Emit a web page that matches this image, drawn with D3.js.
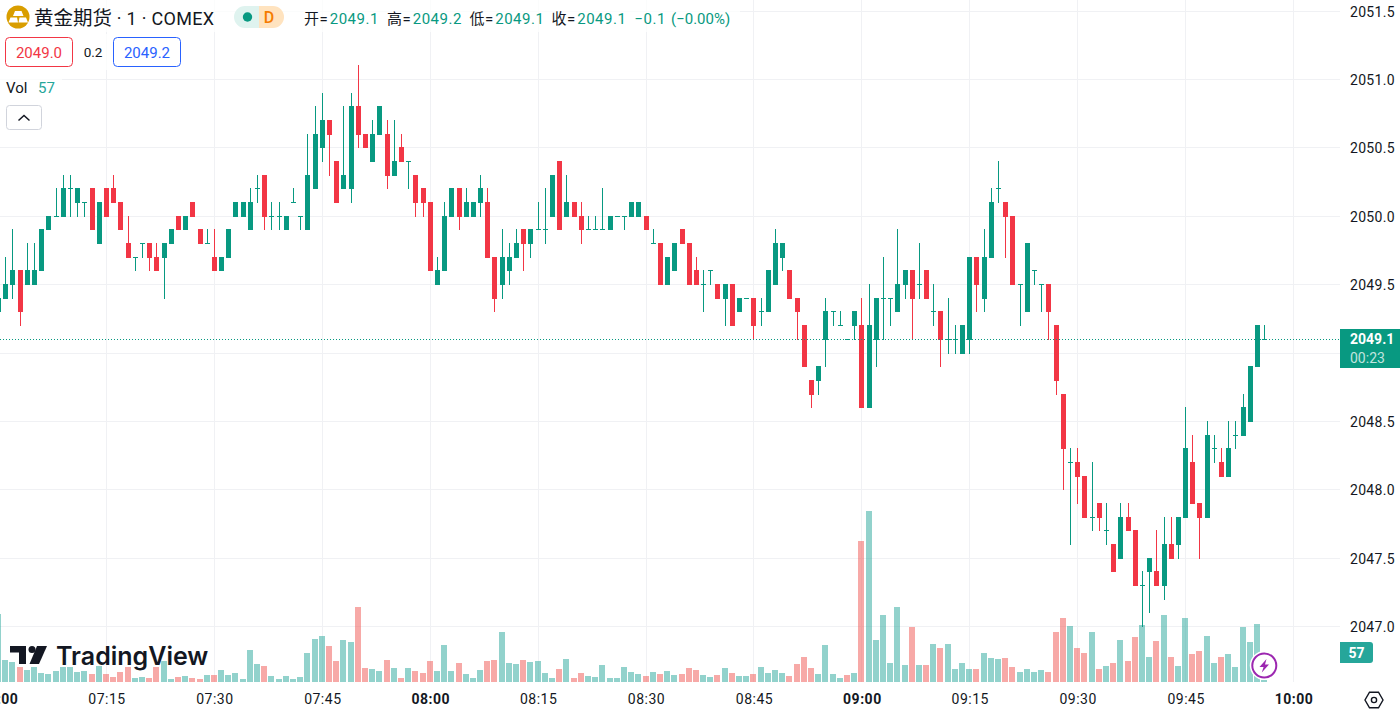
<!DOCTYPE html>
<html>
<head>
<meta charset="utf-8">
<title>黄金期货 · 1 · COMEX</title>
<script src="https://cdn.jsdelivr.net/npm/d3@7"></script>
<style>
  html, body { margin: 0; padding: 0; background: #fff; overflow: hidden; }
  text { font-family: Roboto, "Noto Sans CJK SC", sans-serif; }
</style>
</head>
<body>
<div id="chart"></div>
<script>
// one bar per minute, first bar is 07:00
const opens = [
  2049.3,2049.4,2049.5,2049.6,2049.5,2049.5,2049.6,2049.9,2050.0,2050.0,
  2050.2,2050.1,2050.1,2050.2,2049.8,2050.2,2050.2,2050.1,2049.8,2049.7,
  2049.8,2049.8,2049.7,2049.7,2049.8,2050.0,2049.9,2050.1,2049.9,2049.8,
  2049.7,2049.6,2049.7,2050.0,2050.0,2049.9,2050.2,2050.3,2050.0,2050.0,
  2049.9,2050.1,2050.0,2049.9,2050.2,2050.5,2050.7,2050.4,2050.2,2050.2,
  2050.8,2050.6,2050.4,2050.6,2050.6,2050.3,2050.5,2050.4,2050.3,2050.2,
  2050.1,2049.5,2049.6,2050.0,2050.2,2050.0,2050.0,2050.1,2050.1,2049.7,
  2049.5,2049.6,2049.7,2049.9,2049.8,2049.9,2049.9,2050.0,2050.4,2050.0,
  2050.1,2050.0,2049.9,2049.9,2049.9,2049.9,2050.0,2050.0,2050.0,2050.0,
  2050.0,2049.8,2049.8,2049.5,2049.6,2049.9,2049.8,2049.6,2049.5,2049.6,
  2049.5,2049.4,2049.5,2049.3,2049.4,2049.4,2049.3,2049.3,2049.5,2049.7,
  2049.6,2049.4,2049.2,2048.8,2048.8,2049.1,2049.3,2049.2,2049.1,2049.2,
  2049.2,2048.6,2049.1,2049.4,2049.4,2049.3,2049.5,2049.6,2049.5,2049.6,
  2049.3,2049.3,2049.1,2049.1,2049.0,2049.1,2049.7,2049.4,2049.7,2050.2,
  2050.1,2050.0,2049.5,2049.3,2049.6,2049.5,2049.5,2049.2,2048.7,2048.2,
  2048.2,2048.1,2047.8,2047.9,2047.7,2047.6,2047.5,2047.8,2047.7,2047.3,
  2047.4,2047.4,2047.3,2047.6,2047.6,2047.8,2048.2,2047.9,2047.8,2048.3,
  2048.2,2048.1,2048.4,2048.4,2048.5,2048.9,2049.1
];
const highs = [
  2049.4,2049.7,2049.9,2049.6,2049.8,2049.8,2049.9,2050.0,2050.2,2050.3,
  2050.3,2050.2,2050.1,2050.2,2050.1,2050.2,2050.3,2050.1,2050.0,2049.7,
  2049.8,2049.8,2049.8,2049.8,2049.9,2050.0,2050.0,2050.1,2049.9,2049.9,
  2049.9,2049.7,2049.9,2050.1,2050.1,2050.2,2050.3,2050.3,2050.1,2050.1,
  2050.0,2050.2,2050.0,2050.6,2050.8,2050.9,2050.7,2050.4,2050.8,2050.9,
  2051.1,2050.6,2050.7,2050.8,2050.7,2050.7,2050.6,2050.4,2050.3,2050.2,
  2050.1,2049.7,2050.1,2050.2,2050.2,2050.2,2050.1,2050.3,2050.2,2049.7,
  2049.9,2049.8,2049.9,2049.9,2049.9,2050.1,2050.2,2050.3,2050.4,2050.3,
  2050.1,2050.1,2050.0,2050.0,2050.2,2050.0,2050.0,2050.0,2050.1,2050.1,
  2050.0,2049.9,2049.8,2049.7,2049.8,2049.9,2049.8,2049.7,2049.6,2049.6,
  2049.5,2049.5,2049.5,2049.4,2049.4,2049.4,2049.4,2049.6,2049.9,2049.8,
  2049.6,2049.4,2049.2,2048.8,2048.9,2049.4,2049.3,2049.3,2049.1,2049.3,
  2049.4,2049.5,2049.4,2049.7,2049.4,2049.9,2049.6,2049.6,2049.8,2049.6,
  2049.5,2049.3,2049.4,2049.2,2049.2,2049.7,2049.7,2049.9,2050.2,2050.4,
  2050.1,2050.0,2049.5,2049.8,2049.6,2049.5,2049.5,2049.2,2048.7,2048.3,
  2048.3,2048.1,2048.2,2047.9,2047.9,2047.6,2047.9,2047.9,2047.7,2047.4,
  2047.5,2047.7,2047.8,2047.8,2047.8,2048.6,2048.4,2047.9,2048.5,2048.4,
  2048.3,2048.5,2048.5,2048.7,2048.9,2049.2,2049.2
];
const lows = [
  2049.3,2049.4,2049.4,2049.2,2049.5,2049.5,2049.6,2049.9,2050.0,2050.0,
  2050.0,2050.0,2050.0,2049.9,2049.8,2050.0,2050.1,2049.9,2049.7,2049.6,
  2049.7,2049.6,2049.6,2049.4,2049.8,2049.9,2049.9,2050.0,2049.8,2049.8,
  2049.6,2049.6,2049.7,2050.0,2050.0,2049.9,2050.1,2049.9,2049.9,2049.9,
  2049.9,2050.1,2049.9,2049.9,2050.2,2050.4,2050.3,2050.1,2050.2,2050.1,
  2050.5,2050.5,2050.4,2050.6,2050.2,2050.3,2050.4,2050.2,2050.0,2050.0,
  2049.6,2049.5,2049.6,2050.0,2049.9,2050.0,2050.0,2050.0,2049.7,2049.3,
  2049.4,2049.5,2049.7,2049.6,2049.7,2049.9,2049.8,2050.0,2049.9,2050.0,
  2050.0,2049.8,2049.9,2049.9,2049.9,2049.9,2050.0,2049.9,2050.0,2050.0,
  2049.9,2049.8,2049.5,2049.5,2049.6,2049.8,2049.5,2049.5,2049.3,2049.5,
  2049.4,2049.2,2049.2,2049.3,2049.4,2049.1,2049.2,2049.3,2049.5,2049.6,
  2049.4,2049.1,2048.9,2048.6,2048.7,2048.9,2049.2,2049.2,2049.1,2049.1,
  2048.6,2048.6,2048.9,2049.1,2049.2,2049.3,2049.4,2049.1,2049.4,2049.4,
  2049.2,2048.9,2049.0,2049.0,2049.0,2049.0,2049.3,2049.3,2049.7,2050.1,
  2049.7,2049.5,2049.2,2049.3,2049.5,2049.3,2049.1,2048.7,2048.0,2047.6,
  2047.9,2047.8,2047.7,2047.7,2047.6,2047.4,2047.5,2047.7,2047.3,2047.0,
  2047.1,2047.3,2047.2,2047.5,2047.5,2047.8,2047.9,2047.5,2047.8,2048.2,
  2048.1,2048.1,2048.3,2048.4,2048.5,2048.9,2049.1
];
const closes = [
  2049.4,2049.5,2049.6,2049.3,2049.6,2049.6,2049.9,2050.0,2050.0,2050.2,
  2050.2,2050.2,2050.1,2049.9,2050.1,2050.0,2050.1,2049.9,2049.7,2049.7,
  2049.8,2049.7,2049.6,2049.8,2049.9,2049.9,2050.0,2050.0,2049.8,2049.8,
  2049.6,2049.7,2049.9,2050.1,2050.1,2050.1,2050.2,2050.0,2050.0,2050.0,
  2050.0,2050.1,2050.0,2050.3,2050.6,2050.7,2050.6,2050.1,2050.3,2050.8,
  2050.6,2050.5,2050.6,2050.8,2050.3,2050.4,2050.4,2050.4,2050.1,2050.1,
  2049.6,2049.6,2050.0,2050.2,2050.0,2050.1,2050.1,2050.2,2049.7,2049.4,
  2049.7,2049.7,2049.8,2049.8,2049.9,2049.9,2049.9,2050.3,2049.9,2050.1,
  2050.0,2049.9,2049.9,2049.9,2049.9,2050.0,2050.0,2050.0,2050.1,2050.1,
  2049.9,2049.8,2049.5,2049.7,2049.8,2049.8,2049.5,2049.5,2049.5,2049.6,
  2049.4,2049.5,2049.2,2049.4,2049.4,2049.2,2049.3,2049.6,2049.8,2049.8,
  2049.4,2049.3,2048.9,2048.7,2048.9,2049.3,2049.3,2049.2,2049.1,2049.3,
  2048.6,2049.2,2049.4,2049.4,2049.4,2049.5,2049.6,2049.4,2049.5,2049.4,
  2049.3,2049.1,2049.1,2049.1,2049.2,2049.7,2049.5,2049.7,2050.1,2050.2,
  2050.0,2049.5,2049.5,2049.8,2049.6,2049.5,2049.3,2048.8,2048.3,2048.2,
  2048.1,2047.8,2047.8,2047.8,2047.7,2047.4,2047.8,2047.7,2047.3,2047.3,
  2047.5,2047.3,2047.6,2047.5,2047.8,2048.3,2047.9,2047.8,2048.4,2048.3,
  2048.1,2048.3,2048.4,2048.6,2048.9,2049.2,2049.1
];
const volumes = [
  136,44,40,30,24,30,18,16,22,30,
  30,20,22,16,32,16,10,20,30,8,
  10,8,30,42,6,10,12,8,6,14,
  14,24,14,18,6,64,36,32,12,6,
  12,6,10,58,86,92,72,42,84,80,
  150,28,26,22,44,28,8,28,22,18,
  42,22,74,22,38,16,8,24,42,44,
  100,38,36,44,40,42,18,8,26,46,
  8,18,12,10,34,8,8,30,20,16,
  12,20,16,22,14,16,28,24,14,10,
  14,28,18,12,12,16,30,18,24,18,
  12,36,50,28,16,74,16,8,14,18,
  282,342,84,134,38,150,34,110,34,34,
  76,68,76,26,38,26,26,58,48,46,
  48,30,20,26,20,24,20,100,128,112,
  68,58,100,26,32,38,84,42,90,114,
  50,82,134,50,32,128,56,62,92,38,
  50,56,30,110,80,116,4
];
// these bars print flat but their volume column is red in the picture
const redVolumeFlats = [118];

const priceTicks = [2047.0, 2047.5, 2048.0, 2048.5, 2049.0, 2049.5, 2050.0, 2050.5, 2051.0, 2051.5];
const timeTicks = [0, 15, 30, 45, 60, 75, 90, 105, 120, 135, 150, 165, 180];
const timeLabels = ["07:00", "07:15", "07:30", "07:45", "08:00", "08:15", "08:30", "08:45", "09:00", "09:15", "09:30", "09:45", "10:00"];
const boldTimes = ["07:00", "08:00", "09:00", "10:00"];

const symbolCn = "黄金期货", symbolRest = " · 1 · COMEX";
const legendLabels = ["开=", "高=", "低=", "收="];
const legendValues = ["2049.1", "2049.2", "2049.1", "2049.1"];
const legendChange = ["−0.1", "(−0.00%)"];
const bidPrice = "2049.0", askPrice = "2049.2", spread = "0.2";
const lastPrice = "2049.1", countdown = "00:23", lastVolume = "57";

const W = 1400, H = 715;
const paneRight = 1340, paneBottom = 682;
const green = "#089981", red = "#f23645", ink = "#131722";
const volGreen = "#26a69a", volRed = "#ef5350";

const x = d3.scaleLinear().domain([0, 180]).range([-1.4, 1293.5]);
const y = d3.scaleLinear().domain([2047, 2051]).range([626.5, 79.5]);
const yVol = d3.scaleLinear().domain([0, 342]).range([paneBottom, 511]);

const bars = opens.map((o, i) => ({
  i, o, h: highs[i], l: lows[i], c: closes[i], v: volumes[i], down: closes[i] < o
}));

const svg = d3.select("#chart").append("svg")
  .attr("width", W).attr("height", H)
  .style("display", "block")
  .style("background", "#fff");

// grid, drawn with the axes' own tick lines
svg.append("g")
  .attr("class", "grid-x")
  .call(d3.axisBottom(x).tickValues(timeTicks).tickSize(paneBottom).tickFormat("").offset(0))
  .call(g => g.select(".domain").remove())
  .call(g => g.selectAll("line").attr("stroke", "#f0f1f4").attr("shape-rendering", "crispEdges"));

svg.append("g")
  .attr("class", "grid-y")
  .call(d3.axisRight(y).tickValues(priceTicks).tickSize(paneRight).tickFormat("").offset(0))
  .call(g => g.select(".domain").remove())
  .call(g => g.selectAll("line").attr("stroke", "#f0f1f4").attr("shape-rendering", "crispEdges"));

const px = d => Math.floor(x(d.i));
const py = p => Math.floor(y(p));

// volume columns
svg.append("g")
  .selectAll("rect")
  .data(bars)
  .join("rect")
  .attr("x", d => px(d) - 3)
  .attr("width", 6)
  .attr("y", d => Math.round(yVol(d.v)))
  .attr("height", d => paneBottom - Math.round(yVol(d.v)))
  .attr("fill", d => (d.down || redVolumeFlats.includes(d.i)) ? volRed : volGreen)
  .attr("fill-opacity", 0.5)
  .attr("shape-rendering", "crispEdges");

// candles
const candle = svg.append("g").attr("shape-rendering", "crispEdges")
  .selectAll("g")
  .data(bars)
  .join("g")
  .attr("fill", d => d.down ? red : green);

candle.append("rect")
  .attr("x", d => px(d))
  .attr("width", 1)
  .attr("y", d => py(d.h))
  .attr("height", d => py(d.l) - py(d.h) + 1);

candle.append("rect")
  .attr("x", d => px(d) - 2)
  .attr("width", 5)
  .attr("y", d => py(Math.max(d.o, d.c)))
  .attr("height", d => py(Math.min(d.o, d.c)) - py(Math.max(d.o, d.c)) + 1);

// last price line
svg.append("line")
  .attr("x1", 0).attr("x2", paneRight)
  .attr("y1", py(+lastPrice) + 0.5).attr("y2", py(+lastPrice) + 0.5)
  .attr("stroke", green)
  .attr("stroke-dasharray", "1 2");

// price axis
svg.append("g")
  .attr("transform", `translate(${paneRight},0)`)
  .call(d3.axisRight(y).tickValues(priceTicks).tickSize(0).tickPadding(10).tickFormat(d3.format(".1f")))
  .call(g => g.select(".domain").remove())
  .call(g => g.selectAll("text")
    .attr("dy", "0.36em")
    .attr("fill", ink).attr("font-size", 14).style("letter-spacing", "0.3px"));

// time axis
svg.append("g")
  .attr("transform", `translate(0,${paneBottom})`)
  .call(d3.axisBottom(x).tickValues(timeTicks).tickSize(0).tickPadding(12)
    .tickFormat((d, i) => timeLabels[i]))
  .call(g => g.select(".domain").remove())
  .call(g => g.selectAll("text")
    .attr("fill", ink).attr("font-size", 14).style("letter-spacing", "0.5px")
    .attr("font-weight", (d, i) => boldTimes.includes(timeLabels[i]) ? 700 : 400));

// tags on the price axis
svg.append("rect").attr("x", paneRight).attr("y", 329).attr("width", 60).attr("height", 39).attr("fill", green);
svg.append("text").attr("x", 1350).attr("y", 343.5).attr("fill", "#fff")
  .attr("font-size", 14).attr("font-weight", 700).text(lastPrice);
svg.append("text").attr("x", 1350).attr("y", 362.5).attr("fill", "#fff").attr("fill-opacity", 0.75)
  .attr("font-size", 14).text(countdown);

svg.append("path").attr("d", "M1340 642H1370a3 3 0 0 1 3 3V660a3 3 0 0 1 -3 3H1340Z").attr("fill", volGreen);
svg.append("text").attr("x", 1356.5).attr("y", 657.5).attr("text-anchor", "middle").attr("fill", "#fff")
  .attr("font-size", 14).attr("font-weight", 700).text(lastVolume);

// watermark
const mark = svg.append("g").attr("fill", ink);
mark.append("path").attr("d", "M10 646H26V664H19V652.5H10Z");
mark.append("circle").attr("cx", 32).attr("cy", 649.5).attr("r", 3.5);
mark.append("path").attr("d", "M37 646H47L39 664H29.5Z");
mark.append("text").attr("x", 56).attr("y", 664.5).attr("font-size", 25).attr("font-weight", 600)
  .style("font-family", "Inter, Roboto, sans-serif")
  .attr("stroke", "#fff").attr("stroke-width", 1).attr("stroke-opacity", 0.6).attr("paint-order", "stroke")
  .text("TradingView");

// bolt button
svg.append("circle").attr("cx", 1264.3).attr("cy", 665.5).attr("r", 14.5).attr("fill", "#fff");
svg.append("circle").attr("cx", 1264.3).attr("cy", 665.5).attr("r", 12).attr("fill", "#fff")
  .attr("stroke", "#9c27b0").attr("stroke-width", 2);
svg.append("path").attr("d", "M1266.5 659L1259.5 667H1263.6L1261.8 672.5L1269 664.5H1265Z").attr("fill", "#9c27b0");

// settings icon
svg.append("path").attr("d", "M1369.5 692.2H1378.5L1383 700L1378.5 707.8H1369.5L1365 700Z")
  .attr("fill", "none").attr("stroke", ink).attr("stroke-width", 1.4);
svg.append("circle").attr("cx", 1374).attr("cy", 700).attr("r", 2.6)
  .attr("fill", "none").attr("stroke", ink).attr("stroke-width", 1.4);

// legend: veil over the grid first
[[0, 0, 740, 32], [0, 34, 186, 36], [0, 75, 62, 24]].forEach(r => {
  svg.append("rect").attr("x", r[0]).attr("y", r[1]).attr("width", r[2]).attr("height", r[3])
    .attr("fill", "#fff").attr("fill-opacity", 0.75);
});

svg.append("circle").attr("cx", 18).attr("cy", 17).attr("r", 11.5).attr("fill", "#d99e00");
svg.append("path").attr("fill", "#fff")
  .attr("d", "M15 11H21.5L23.5 16H13ZM10.5 17.5H17L18 22.5H8.5ZM19.5 17.5H26L28 22.5H18.5Z");

const title = svg.append("text").attr("x", 34).attr("y", 25).attr("fill", ink);
title.append("tspan").attr("font-size", 19.5).text(symbolCn);
title.append("tspan").attr("font-size", 18).style("letter-spacing", "0.3px").attr("xml:space", "preserve").text(symbolRest);

svg.append("path").attr("d", "M259 6H245a11 11 0 0 0 0 22H259Z").attr("fill", "#dff3ef");
svg.append("path").attr("d", "M259 6H273a11 11 0 0 1 0 22H259Z").attr("fill", "#ffe3bf");
svg.append("circle").attr("cx", 247.5).attr("cy", 17).attr("r", 4.7).attr("fill", green);
svg.append("text").attr("x", 269).attr("y", 23).attr("text-anchor", "middle")
  .attr("fill", "#f57c00").attr("font-size", 16).attr("font-weight", 500).text("D");

const legendX = [304, 387, 469.5, 551.5];
legendLabels.forEach((t, i) => {
  const row = svg.append("text").attr("x", legendX[i]).attr("y", 24).attr("font-size", 15)
    .style("letter-spacing", "0.5px");
  row.append("tspan").attr("fill", ink).text(t);
  row.append("tspan").attr("fill", green).attr("dx", 1.5).text(legendValues[i]);
});
svg.append("text").attr("x", 634.5).attr("y", 24).attr("font-size", 15).attr("fill", green)
  .style("letter-spacing", "0.5px").text(legendChange[0]);
svg.append("text").attr("x", 671).attr("y", 24).attr("font-size", 15).attr("fill", green)
  .text(legendChange[1]);

// bid / ask
svg.append("rect").attr("x", 5.5).attr("y", 37.5).attr("width", 67).attr("height", 29).attr("rx", 4)
  .attr("fill", "#fff").attr("stroke", red);
svg.append("text").attr("x", 39).attr("y", 57.5).attr("text-anchor", "middle").attr("fill", red)
  .attr("font-size", 15).text(bidPrice);
svg.append("text").attr("x", 93).attr("y", 57).attr("text-anchor", "middle").attr("fill", ink)
  .attr("font-size", 13.5).text(spread);
svg.append("rect").attr("x", 113.5).attr("y", 37.5).attr("width", 67).attr("height", 29).attr("rx", 4)
  .attr("fill", "#fff").attr("stroke", "#2962ff");
svg.append("text").attr("x", 147).attr("y", 57.5).attr("text-anchor", "middle").attr("fill", "#2962ff")
  .attr("font-size", 15).text(askPrice);

// volume legend and collapse button
svg.append("text").attr("x", 6).attr("y", 92.5).attr("fill", ink).attr("font-size", 15).text("Vol");
svg.append("text").attr("x", 38).attr("y", 92.5).attr("fill", volGreen).attr("font-size", 15).text(lastVolume);
svg.append("rect").attr("x", 6.5).attr("y", 105.5).attr("width", 35).attr("height", 24).attr("rx", 3)
  .attr("fill", "#fff").attr("stroke", "#d1d4dc");
svg.append("path").attr("d", "M18.5 120.5L24 115.5L29.5 120.5")
  .attr("fill", "none").attr("stroke", ink).attr("stroke-width", 1.5);
</script>
</body>
</html>
